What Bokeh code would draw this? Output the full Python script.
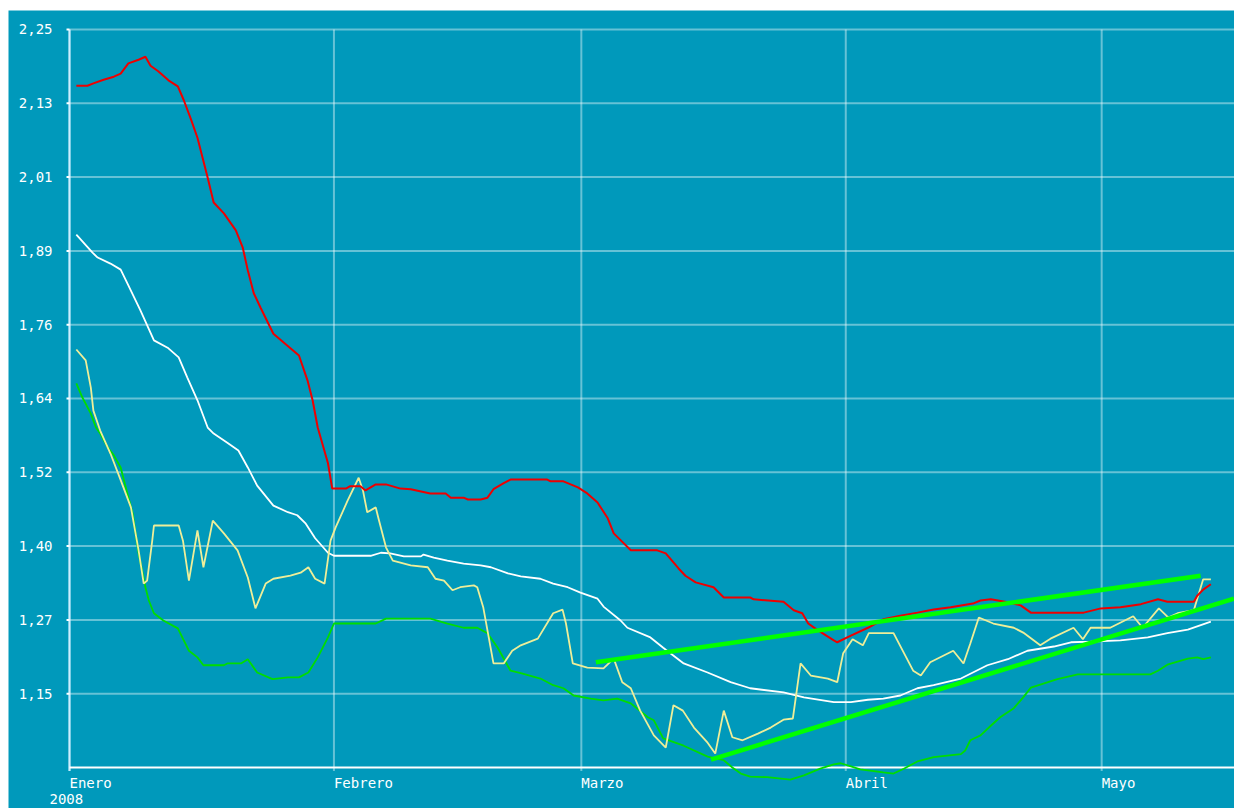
from bokeh.plotting import figure
from bokeh.models import Spacer
from bokeh.layouts import column, row
from bokeh.core.properties import value
from bokeh.embed import file_html
from bokeh.resources import INLINE

# ---- data (x = days since 1 Jan 2008, y = value) ----
month_days = [0, 31, 60, 91, 121]
month_names = ["Enero", "Febrero", "Marzo", "Abril", "Mayo"]
year_label = "2008"

y_ticks = [1.152, 1.274, 1.396, 1.518, 1.640, 1.762, 1.884, 2.006, 2.128, 2.250]
y_tick_labels = ["1,15", "1,27", "1,40", "1,52", "1,64", "1,76", "1,89", "2,01", "2,13", "2,25"]
y_base = 1.03

red = [(0.8, 2.157), (2.1, 2.157), (2.8, 2.161), (4.0, 2.167), (5.2, 2.172), (6.0, 2.177),
       (6.9, 2.194), (8.1, 2.200), (8.9, 2.205), (9.5, 2.190), (10.4, 2.181), (11.6, 2.166),
       (12.7, 2.156), (13.4, 2.133), (14.2, 2.103), (15.0, 2.071), (15.6, 2.038), (16.2, 2.005),
       (16.9, 1.964), (18.1, 1.946), (19.5, 1.918), (20.3, 1.890), (20.9, 1.852), (21.6, 1.814),
       (22.4, 1.790), (23.9, 1.747), (26.9, 1.711), (27.9, 1.670), (28.5, 1.637), (29.1, 1.592),
       (30.3, 1.533), (30.8, 1.491), (32.4, 1.491), (32.9, 1.495), (34.1, 1.495), (34.7, 1.488),
       (35.9, 1.498), (37.1, 1.498), (38.8, 1.491), (40.0, 1.490), (42.3, 1.483), (44.1, 1.483),
       (44.7, 1.476), (46.2, 1.476), (46.7, 1.473), (48.2, 1.473), (49.0, 1.476), (49.7, 1.490),
       (50.9, 1.500), (51.7, 1.506), (56.0, 1.506), (56.4, 1.503), (57.9, 1.503), (59.6, 1.493),
       (60.7, 1.483), (61.9, 1.468), (63.1, 1.442), (63.8, 1.417), (65.8, 1.389), (68.9, 1.389),
       (69.9, 1.384), (71.4, 1.359), (72.2, 1.347), (73.4, 1.336), (75.5, 1.328), (76.7, 1.311),
       (79.8, 1.311), (80.2, 1.308), (83.7, 1.304), (84.9, 1.290), (85.9, 1.285), (86.6, 1.268),
       (87.7, 1.257), (89.6, 1.240), (90.0, 1.237), (91.6, 1.248), (93.6, 1.261), (95.4, 1.275),
       (97.4, 1.281), (99.4, 1.286), (101.3, 1.291), (103.3, 1.295), (105.9, 1.301), (106.8, 1.306),
       (108.0, 1.308), (110.0, 1.303), (111.5, 1.298), (112.7, 1.286), (118.9, 1.286), (120.9, 1.293),
       (123.2, 1.295), (125.6, 1.300), (127.6, 1.308), (128.7, 1.304), (131.8, 1.304), (132.2, 1.314),
       (132.9, 1.324), (133.8, 1.333)]

white = [(0.8, 1.911), (2.7, 1.881), (3.3, 1.873), (4.8, 1.863), (6.0, 1.853), (6.8, 1.830),
         (8.3, 1.786), (9.9, 1.736), (11.5, 1.724), (12.8, 1.708), (13.8, 1.675), (15.0, 1.637),
         (16.2, 1.592), (16.9, 1.582), (18.5, 1.567), (19.8, 1.554), (20.9, 1.526), (22.0, 1.496),
         (23.9, 1.463), (25.6, 1.452), (26.7, 1.447), (27.7, 1.433), (28.8, 1.409), (30.3, 1.385),
         (31.0, 1.380), (35.3, 1.380), (36.5, 1.385), (37.6, 1.384), (39.2, 1.379), (41.2, 1.379),
         (41.5, 1.382), (42.7, 1.377), (44.3, 1.372), (46.2, 1.367), (48.2, 1.364), (49.4, 1.361),
         (51.4, 1.351), (52.9, 1.346), (55.2, 1.342), (56.7, 1.334), (58.4, 1.328), (59.9, 1.319),
         (61.9, 1.309), (62.6, 1.296), (64.6, 1.273), (65.4, 1.261), (68.1, 1.245), (69.6, 1.228),
         (72.0, 1.202), (74.8, 1.187), (77.5, 1.171), (79.8, 1.161), (83.7, 1.154), (86.1, 1.146),
         (89.6, 1.138), (91.6, 1.138), (93.6, 1.142), (95.4, 1.144), (97.4, 1.149), (99.4, 1.161),
         (101.3, 1.166), (104.5, 1.177), (107.6, 1.199), (110.0, 1.209), (112.3, 1.223), (115.4, 1.230),
         (117.4, 1.237), (119.7, 1.238), (123.2, 1.240), (126.4, 1.245), (128.7, 1.252), (131.1, 1.258),
         (133.8, 1.271)]

yellow = [(0.8, 1.721), (1.9, 1.703), (2.5, 1.658), (2.8, 1.620), (3.6, 1.587), (4.8, 1.549),
          (6.0, 1.505), (7.2, 1.460), (8.1, 1.389), (8.7, 1.334), (9.1, 1.339), (9.7, 1.405),
          (9.9, 1.430), (12.8, 1.430), (13.3, 1.405), (14.0, 1.339), (15.0, 1.422), (15.7, 1.361),
          (16.8, 1.438), (18.1, 1.417), (19.7, 1.389), (20.9, 1.344), (21.8, 1.293), (23.0, 1.334),
          (23.9, 1.342), (25.9, 1.347), (27.1, 1.352), (28.0, 1.361), (28.8, 1.342), (29.9, 1.334),
          (30.6, 1.405), (31.2, 1.427), (32.6, 1.471), (33.9, 1.509), (34.4, 1.488), (34.9, 1.452),
          (35.9, 1.460), (36.2, 1.443), (37.1, 1.394), (37.9, 1.372), (40.0, 1.364), (42.0, 1.361),
          (42.9, 1.342), (43.9, 1.339), (44.9, 1.323), (45.8, 1.328), (47.4, 1.331), (47.8, 1.328),
          (48.5, 1.295), (49.7, 1.202), (50.9, 1.202), (51.9, 1.223), (52.9, 1.232), (54.9, 1.243),
          (56.7, 1.285), (57.8, 1.291), (58.2, 1.268), (59.0, 1.202), (60.7, 1.195), (62.6, 1.194),
          (63.8, 1.210), (64.8, 1.171), (65.8, 1.161), (66.9, 1.124), (68.5, 1.083), (69.9, 1.063),
          (70.8, 1.133), (71.9, 1.124), (73.2, 1.096), (74.8, 1.071), (75.7, 1.053), (76.7, 1.124),
          (77.7, 1.080), (78.9, 1.075), (80.7, 1.086), (82.2, 1.096), (83.7, 1.109), (84.8, 1.111),
          (85.7, 1.202), (86.9, 1.182), (88.9, 1.177), (90.0, 1.171), (90.7, 1.219), (91.8, 1.242),
          (93.0, 1.232), (93.7, 1.252), (96.6, 1.252), (98.9, 1.190), (99.8, 1.182), (100.9, 1.204),
          (103.6, 1.223), (104.8, 1.202), (105.6, 1.235), (106.6, 1.278), (108.3, 1.268), (110.7, 1.261),
          (111.8, 1.253), (113.8, 1.232), (115.0, 1.243), (117.7, 1.261), (118.8, 1.242), (119.7, 1.261),
          (122.0, 1.261), (124.7, 1.280), (125.8, 1.261), (127.7, 1.293), (128.8, 1.278), (129.9, 1.285),
          (131.8, 1.290), (132.4, 1.318), (132.9, 1.341), (133.8, 1.341)]

green = [(0.8, 1.665), (1.5, 1.642), (2.5, 1.615), (3.1, 1.592), (3.6, 1.582), (4.5, 1.559),
         (5.2, 1.546), (6.0, 1.526), (6.6, 1.493), (7.4, 1.450), (8.1, 1.384), (8.9, 1.328),
         (9.3, 1.306), (9.9, 1.285), (11.0, 1.273), (12.7, 1.260), (14.0, 1.223), (15.0, 1.212),
         (15.7, 1.199), (18.1, 1.199), (18.5, 1.202), (20.1, 1.202), (20.9, 1.209), (22.0, 1.187),
         (23.8, 1.176), (25.6, 1.179), (26.9, 1.179), (28.0, 1.187), (29.1, 1.212), (30.3, 1.245),
         (31.0, 1.268), (35.9, 1.268), (37.1, 1.276), (42.3, 1.276), (44.3, 1.268), (46.2, 1.261),
         (47.8, 1.261), (49.0, 1.252), (50.2, 1.228), (51.7, 1.190), (52.9, 1.186), (55.2, 1.177),
         (56.7, 1.166), (57.9, 1.161), (59.1, 1.149), (61.1, 1.144), (62.6, 1.141), (64.2, 1.144),
         (65.8, 1.136), (67.8, 1.113), (68.5, 1.108), (69.6, 1.078), (72.0, 1.066), (74.8, 1.048),
         (76.7, 1.042), (77.7, 1.030), (78.7, 1.020), (79.8, 1.015), (81.8, 1.014), (84.5, 1.010),
         (86.1, 1.017), (88.0, 1.028), (89.6, 1.035), (90.4, 1.037), (91.6, 1.032), (92.7, 1.027),
         (95.4, 1.022), (96.6, 1.020), (97.8, 1.028), (99.4, 1.040), (101.3, 1.047), (104.5, 1.052),
         (105.0, 1.058), (105.6, 1.075), (106.8, 1.083), (108.0, 1.099), (109.1, 1.113), (110.7, 1.128),
         (111.8, 1.146), (112.7, 1.162), (113.8, 1.167), (115.8, 1.176), (118.2, 1.184), (126.7, 1.184),
         (127.6, 1.190), (128.7, 1.200), (129.9, 1.205), (131.1, 1.210), (132.2, 1.212), (132.9, 1.209),
         (133.8, 1.212)]

trend_upper = [(61.7, 1.204), (132.6, 1.347)]
trend_lower = [(75.2, 1.043), (136.5, 1.309)]

# ---- layout / styling ----
BG = "#0099BB"
FONT = value("DejaVu Sans Mono")
FS = value("14px")
X_START, X_END = -7.151, 136.57      # day 0 sits 61px right of the figure's left edge
Y_START, Y_END = 0.9622, 2.2814      # 2.25 sits 19px below the top, 1.03 sits 41px above the bottom
TICK_X = 0.35                        # ~3px tick length in day units
TICK_Y = 0.006                       # ~4px tick length in value units

p = figure(width=1226, height=798, output_backend="svg", toolbar_location=None,
           x_range=(X_START, X_END), y_range=(Y_START, Y_END),
           x_axis_location=None, y_axis_location=None,
           min_border=0, background_fill_color=BG, border_fill_color=BG,
           outline_line_color=None)
p.grid.visible = False

top = y_ticks[-1]
n_y = len(y_ticks)
n_m = len(month_days)

# horizontal grid lines
p.segment(x0=[0] * n_y, x1=[X_END] * n_y, y0=y_ticks, y1=y_ticks,
          line_color="white", line_alpha=0.4, line_width=2)
# vertical grid lines (with a small tick below the base line)
p.segment(x0=month_days, x1=month_days, y0=[y_base - TICK_Y] * n_m, y1=[top] * n_m,
          line_color="white", line_alpha=0.4, line_width=2)
# left axis line and its ticks
p.segment(x0=[0], x1=[0], y0=[y_base - TICK_Y], y1=[top],
          line_color="#CCEEFF", line_width=2)
p.segment(x0=[-TICK_X] * n_y, x1=[0] * n_y, y0=y_ticks, y1=y_ticks,
          line_color="white", line_width=2)
# base line
p.segment(x0=[0], x1=[X_END], y0=[y_base], y1=[y_base], line_color="white", line_width=2)

def draw(series, color, width):
    xs = [a for a, b in series]
    ys = [b for a, b in series]
    p.line(xs, ys, line_color=color, line_width=width)

draw(green, "#00DD00", 1.8)
draw(white, "#FFFFFF", 1.8)
draw(yellow, "#EEEE99", 1.8)
draw(red, "#EE0000", 2)
draw(trend_upper, "#00FF00", 4.5)
draw(trend_lower, "#00FF00", 4.5)

# y tick labels
p.text(x=[0] * n_y, y=y_ticks, text=y_tick_labels, x_offset=-17,
       text_align="right", text_baseline="middle",
       text_color="white", text_font=FONT, text_font_size=FS)
# month labels, left-aligned at each month start
p.text(x=month_days, y=[y_base] * n_m, text=month_names, y_offset=16,
       text_align="left", text_baseline="alphabetic",
       text_color="white", text_font=FONT, text_font_size=FS)
# year label
p.text(x=[0], y=[y_base], text=[year_label], x_offset=-20, y_offset=32,
       text_align="left", text_baseline="alphabetic",
       text_color="white", text_font=FONT, text_font_size=FS)

layout = column(Spacer(height=10), row(Spacer(width=8), p))
open("out.html", "w").write(file_html(layout, INLINE))
